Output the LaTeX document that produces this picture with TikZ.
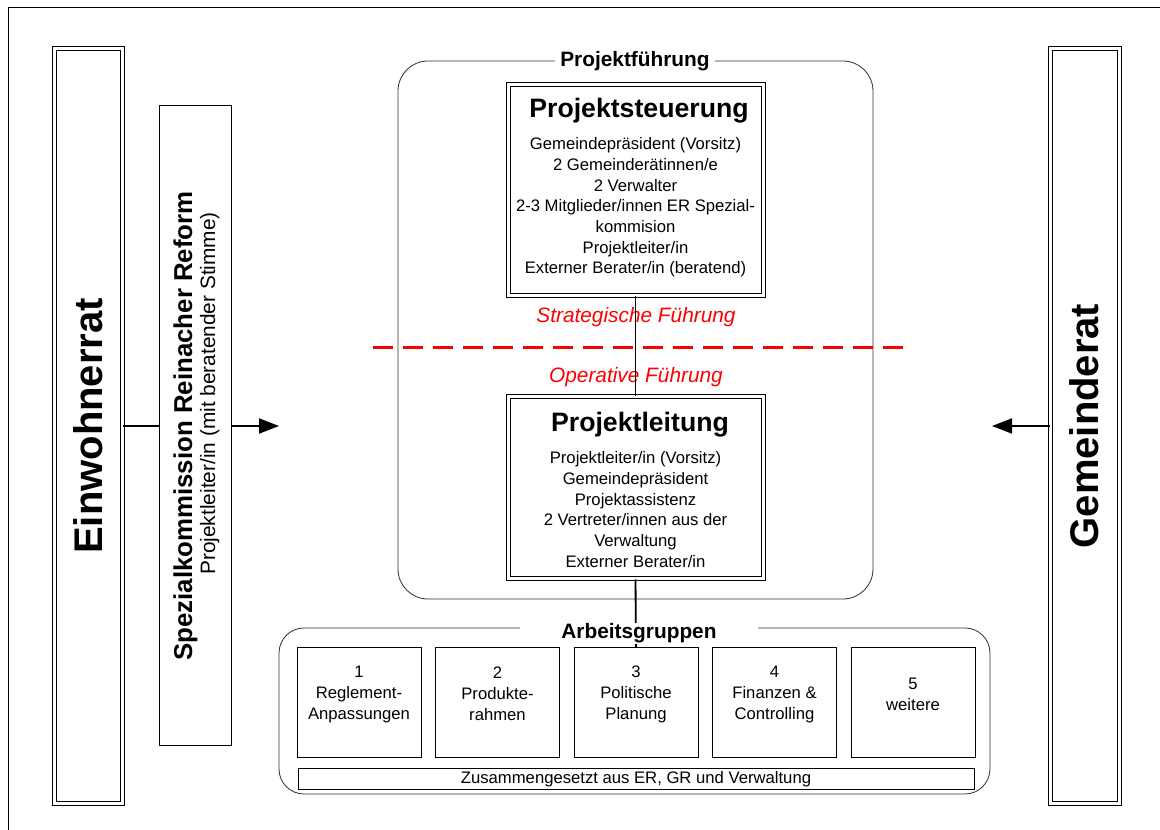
\documentclass[tikz,border=0pt]{standalone}
\usepackage{fontspec}
\setmainfont{Liberation Sans}
\usepackage{xcolor}
\usepackage{tikz}
\usetikzlibrary{arrows.meta,positioning,calc}

\begin{document}
\begin{tikzpicture}[
    x=0.6pt, y=-0.6pt,
    bigbox/.style={rectangle, draw, double, double distance=1.8pt, line width=0.6pt, inner sep=0pt},
    plainbox/.style={rectangle, draw, line width=0.6pt, inner sep=0pt, align=center, font=\fontsize{10}{12.6}\selectfont},
    groupbox/.style={plainbox, minimum width=74.4pt, minimum height=66pt},
    grouptext/.style={align=center, inner sep=0pt, yshift=5.4pt, font=\fontsize{10}{12.6}\selectfont},
    groupframe/.style={rectangle, draw=black!80, line width=0.5pt, rounded corners=18pt, inner sep=0pt},
    frametitle/.style={fill=white, anchor=base, inner ysep=0.5pt, font=\fontsize{12.5}{15}\bfseries},
    boxtitle/.style={font=\fontsize{16}{19}\bfseries, anchor=base, inner sep=0pt},
    boxtext/.style={font=\fontsize{10}{12.4}\selectfont, align=center, anchor=north, inner sep=0pt},
    sidetitle/.style={rotate=90, font=\fontsize{24}{28}\bfseries},
    phase/.style={text=red, font=\fontsize{12.5}{15}\itshape, anchor=base, inner sep=0pt},
    link/.style={line width=1.1pt},
    dataflow/.style={link, -{Triangle[length=12pt,width=9pt]}}
]

\useasboundingbox (0,0) rectangle (1160,830);
\fill[white] (0,0) rectangle (1160,830);
\draw[line width=0.6pt] (8,830) |- (1160,8);

% Left side
\node[bigbox, minimum width=40.8pt, minimum height=453pt] (ewrat) at (88,426) {};
\node[sidetitle] (ewtitle) at (ewrat) {Einwohnerrat};
\node[plainbox, minimum width=43.2pt, minimum height=384pt] (spez) at (195,426) {};
\node[rotate=90, anchor=base, inner sep=0pt, font=\fontsize{15.5}{18}\bfseries] (speztitle) at (192,426) {Spezialkommission Reinacher Reform};
\node[rotate=90, anchor=base west, inner sep=0pt, font=\fontsize{12.5}{15}\selectfont] (speznote) at (215,575) {Projektleiter/in (mit beratender Stimme)};

% Right side
\node[bigbox, minimum width=41.4pt, minimum height=453pt] (grat) at (1084.5,426) {};
\node[sidetitle] (grtitle) at (grat) {Gemeinderat};

% Projektfuehrung
\node[groupframe, minimum width=285pt, minimum height=322.8pt] (pfframe) at (635.5,330) {};
\node[frametitle, inner xsep=3pt] (pflabel) at (635,67) {Projektführung};

\node[bigbox, minimum width=153pt, minimum height=126.6pt] (steuer) at (635.5,190.5) {};
\node[boxtitle] (steuertitle) at (639,118) {Projektsteuerung};
\node[boxtext] (steuertext) at (635.5,137.5) {Gemeindepräsident (Vorsitz)\\2 Gemeinderätinnen/e\\2 Verwalter\\2-3 Mitglieder/innen ER Spezial-\\kommision\\Projektleiter/in\\Externer Berater/in (beratend)};

\node[bigbox, minimum width=153pt, minimum height=109.2pt] (leitung) at (635.5,488) {};
\node[boxtitle] (leitungtitle) at (640,432) {Projektleitung};
\node[boxtext] (leitungtext) at (635.5,451.5) {Projektleiter/in (Vorsitz)\\Gemeindepräsident\\Projektassistenz\\2 Vertreter/innen aus der\\Verwaltung\\Externer Berater/in};

% Strategisch / operativ
\coordinate (cutleft) at (373,348);
\coordinate (cutright) at (905,348);
\draw[red, line width=1.8pt, dash pattern=on 12pt off 6pt] (cutleft) -- (cutright);
\node[phase] (strat) at (636,323) {Strategische Führung};
\node[phase] (oper) at (636,383) {Operative Führung};

% Arbeitsgruppen
\node[groupframe, rounded corners=15pt, minimum width=426.6pt, minimum height=99.6pt] (agframe) at (634.5,711) {};
\node[groupbox, label={[grouptext]center:1\\Reglement-\\Anpassungen}] (ag1) at (359,703) {};
\node[groupbox, label={[grouptext]center:2\\Produkte-\\rahmen}] (ag2) at (497.5,703) {};
\node[groupbox, label={[grouptext]center:3\\Politische\\Planung}] (ag3) at (636,703) {};
\node[groupbox, label={[grouptext]center:4\\Finanzen \&\\Controlling}] (ag4) at (774.5,703) {};
\node[groupbox, label={[grouptext]center:5\\weitere}] (ag5) at (913,703) {};
\node[plainbox, minimum width=405.6pt, minimum height=12.6pt] (agnote) at (636,779.5) {Zusammengesetzt aus ER, GR und Verwaltung};

% Connections
\draw[link] (ewrat.east) -- (spez.west);
\coordinate (spezarrow) at (279,426);
\draw[dataflow] (spez.east) -- (spezarrow);
\coordinate (grarrow) at (992,426);
\draw[dataflow] (grat.west) -- (grarrow);
\draw[link] (steuer.south) -- (leitung.north);
\draw[link] (leitung.south) -- (ag3.north);

\node[frametitle, inner xsep=25pt] (aglabel) at (639,639) {Arbeitsgruppen};

\end{tikzpicture}
\end{document}
